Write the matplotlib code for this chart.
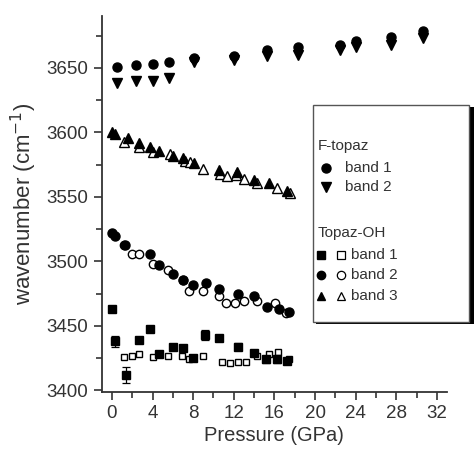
import matplotlib
matplotlib.use("Agg")
import matplotlib.pyplot as plt
from matplotlib.lines import Line2D
from matplotlib.patches import Rectangle
from matplotlib.ticker import MultipleLocator

plt.rcParams['font.family'] = ['Liberation Sans', 'DejaVu Sans']

# ---- data ----
# F-topaz
ft_p = [0.5, 2.4, 4.0, 5.6, 8.1, 12.0, 15.3, 18.3, 22.5, 24.0, 27.5, 30.6]
ft_band1 = [3651, 3652, 3653, 3655, 3658, 3659, 3664, 3666, 3668, 3671, 3674, 3679]
ft_band2 = [3638, 3640, 3640, 3642, 3655, 3656, 3659, 3660, 3664, 3666, 3668, 3673]

# Topaz-OH band 3
oh3_fp = [0.0, 0.3, 1.6, 2.7, 3.7, 4.6, 6.0, 7.0, 8.1, 10.5, 12.3, 14.0, 15.5, 17.2]
oh3_fv = [3600, 3599, 3596, 3592, 3589, 3586, 3582, 3580, 3576, 3571, 3569, 3563, 3561, 3555]
oh3_op = [1.2, 2.7, 4.0, 5.7, 7.2, 7.7, 9.0, 10.6, 11.3, 12.2, 13.0, 14.3, 16.3, 17.5]
oh3_ov = [3593, 3589, 3585, 3583, 3578, 3577, 3572, 3568, 3566, 3567, 3564, 3561, 3557, 3553]

# Topaz-OH band 2
oh2_fp = [0.0, 0.3, 1.3, 3.7, 4.6, 6.0, 7.0, 8.0, 9.3, 10.5, 12.4, 14.0, 15.3, 16.5, 17.4]
oh2_fv = [3522, 3520, 3513, 3506, 3497, 3490, 3486, 3482, 3483, 3479, 3475, 3473, 3465, 3463, 3461]
oh2_op = [1.2, 2.0, 2.7, 4.0, 5.5, 7.0, 7.6, 9.0, 10.5, 11.2, 12.1, 13.0, 14.3, 16.1, 17.1]
oh2_ov = [3513, 3506, 3506, 3498, 3493, 3486, 3477, 3477, 3473, 3468, 3468, 3469, 3469, 3468, 3460]

# Topaz-OH band 1
oh1_fp = [0.0, 0.3, 1.4, 2.7, 3.7, 4.6, 6.0, 7.0, 8.0, 9.2, 10.5, 12.4, 14.0, 15.2, 16.3, 17.2]
oh1_fv = [3463, 3438, 3412, 3439, 3448, 3428, 3434, 3433, 3425, 3443, 3441, 3434, 3429, 3424, 3424, 3423]
oh1_fe = [0, 4.5, 6.5, 0, 0, 0, 0, 0, 0, 4, 0, 3, 0, 3, 3, 0]
oh1_op = [1.2, 2.0, 2.7, 4.0, 5.5, 6.9, 7.6, 9.0, 10.8, 11.6, 12.4, 13.2, 14.3, 15.5, 16.4, 17.4]
oh1_ov = [3426, 3427, 3428, 3426, 3427, 3427, 3424, 3427, 3422, 3421, 3422, 3422, 3427, 3428, 3430, 3424]

x_ticks = [0, 4, 8, 12, 16, 20, 24, 28, 32]
y_ticks = [3400, 3450, 3500, 3550, 3600, 3650]

W, H = 474, 450
fig = plt.figure(figsize=(W / 100, H / 100), dpi=100)
ax = fig.add_axes([101.5 / W, 1 - 392 / H, (447 - 101.5) / W, (392 - 16) / H])

txt = '#333333'
ms = 6.5
ax.plot(ft_p, ft_band1, 'o', color='black', ms=ms, ls='none')
ax.plot(ft_p, ft_band2, 'v', color='black', ms=ms, ls='none')

ax.plot(oh3_op, oh3_ov, '^', mfc='white', mec='black', mew=1.0, ms=ms, ls='none')
ax.plot(oh3_fp, oh3_fv, '^', color='black', ms=ms, ls='none')
ax.plot(oh2_op, oh2_ov, 'o', mfc='white', mec='black', mew=1.0, ms=ms - 0.5, ls='none')
ax.plot(oh2_fp, oh2_fv, 'o', color='black', ms=ms, ls='none')
ax.plot(oh1_op, oh1_ov, 's', mfc='white', mec='black', mew=1.0, ms=5, ls='none')
ax.errorbar(oh1_fp, oh1_fv, yerr=oh1_fe, fmt='s', color='black', ms=5.5,
            ecolor='black', elinewidth=0.9, capsize=3, capthick=0.9)

ax.set_xlim(-1.03, 33.0)
ax.set_ylim(3398.8, 3690.3)
ax.set_xticks(x_ticks)
ax.set_yticks(y_ticks)
ax.xaxis.set_minor_locator(MultipleLocator(2))
ax.yaxis.set_minor_locator(MultipleLocator(25))
for s in ['top', 'right']:
    ax.spines[s].set_visible(False)
for s in ['left', 'bottom']:
    ax.spines[s].set_color('#333333')
    ax.spines[s].set_linewidth(1.3)
ax.tick_params(which='major', direction='out', length=6, width=1.2, color='#333333',
               labelsize=13.5, labelcolor=txt)
ax.tick_params(which='minor', direction='out', length=4, width=1.2, color='#333333')
ax.set_xlabel('Pressure (GPa)', fontsize=14.5, color=txt, labelpad=3)
ax.set_ylabel('wavenumber (cm$^{-1}$)', fontsize=16, color=txt, labelpad=5)


def fx(x):
    return x / W


def fy(y):
    return 1 - y / H


# legend box with shadow
fig.add_artist(Rectangle((fx(316), fy(324)), (471 - 313) / W, (322 - 105) / H,
                         transform=fig.transFigure, facecolor='black', edgecolor='none'))
fig.add_artist(Rectangle((fx(313), fy(322)), (469 - 313) / W, (322 - 105) / H,
                         transform=fig.transFigure, facecolor='white', edgecolor='#555555',
                         linewidth=1.0))

lfs = 11
fig.text(fx(318), fy(146), 'F-topaz', fontsize=lfs, color=txt, va='center', ha='left')
rows_ft = [('o', 168, 'band 1'), ('v', 187, 'band 2')]
for m, y, lab in rows_ft:
    fig.add_artist(Line2D([fx(326)], [fy(y)], marker=m, color='black', ms=6.5,
                          transform=fig.transFigure, ls='none'))
    fig.text(fx(345), fy(y), lab, fontsize=lfs, color=txt, va='center', ha='left')

fig.text(fx(318), fy(233), 'Topaz-OH', fontsize=lfs, color=txt, va='center', ha='left')
rows_oh = [('s', 255, 'band 1'), ('o', 275, 'band 2'), ('^', 296, 'band 3')]
for m, y, lab in rows_oh:
    fig.add_artist(Line2D([fx(321)], [fy(y)], marker=m, color='black', ms=6,
                          transform=fig.transFigure, ls='none'))
    fig.add_artist(Line2D([fx(341)], [fy(y)], marker=m, mfc='white', mec='black', mew=0.9,
                          ms=6, transform=fig.transFigure, ls='none'))
    fig.text(fx(351), fy(y), lab, fontsize=lfs, color=txt, va='center', ha='left')

fig.savefig('out.png', dpi=100)
